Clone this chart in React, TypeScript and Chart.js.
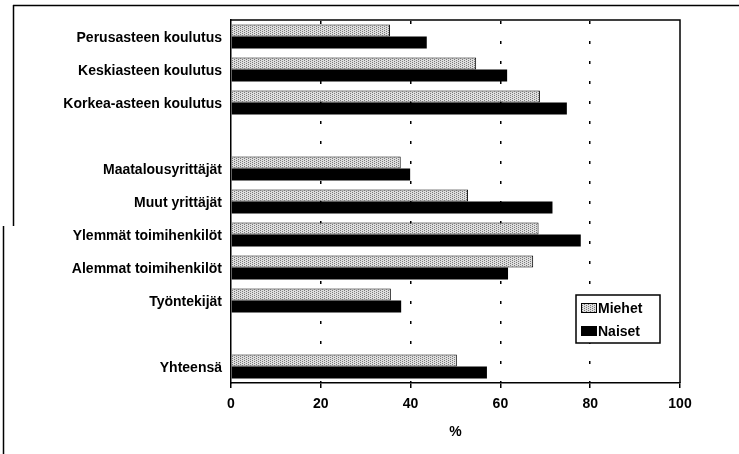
import { useEffect, useRef } from "react";
import { Chart, registerables } from "chart.js";

Chart.register(...registerables);

const categories = [
  "Perusasteen koulutus",
  "Keskiasteen koulutus",
  "Korkea-asteen koulutus",
  "",
  "Maatalousyrittäjät",
  "Muut yrittäjät",
  "Ylemmät toimihenkilöt",
  "Alemmat toimihenkilöt",
  "Työntekijät",
  "",
  "Yhteensä",
];
const miehet = [35.4, 54.6, 68.8, null, 37.8, 52.8, 68.5, 67.3, 35.6, null, 50.3];
const naiset = [43.6, 61.5, 74.8, null, 39.9, 71.6, 77.9, 61.7, 37.9, null, 57.0];
const xTicks = [0, 20, 40, 60, 80, 100];
const xTitle = "%";
const seriesNames = ["Miehet", "Naiset"];

const FONT = "'Liberation Sans', Arial, Helvetica, sans-serif";

function makePattern(): CanvasPattern | string {
  const c = document.createElement("canvas");
  c.width = 4;
  c.height = 4;
  const g = c.getContext("2d");
  if (!g) return "#c4c4c4";
  g.fillStyle = "#dedede";
  g.fillRect(0, 0, 4, 4);
  g.fillStyle = "#7a7a7a";
  for (let y = 0; y < 4; y++)
    for (let x = 0; x < 4; x++) if ((x + 2 * y) % 4 === 0) g.fillRect(x, y, 1, 1);
  const p = g.createPattern(c, "repeat");
  return p || "#c4c4c4";
}

export default function App() {
  const ref = useRef<HTMLCanvasElement | null>(null);

  useEffect(() => {
    if (!ref.current) return;
    const pattern = makePattern();

    const framePlugin = {
      id: "framePlugin",
      beforeDraw(chart: any) {
        const ctx = chart.ctx;
        ctx.save();
        ctx.fillStyle = "#fff";
        ctx.fillRect(0, 0, chart.width, chart.height);
        ctx.strokeStyle = "#000";
        ctx.lineWidth = 1.5;
        ctx.beginPath();
        ctx.moveTo(13, 5.5);
        ctx.lineTo(chart.width, 5.5);
        ctx.moveTo(13.5, 5);
        ctx.lineTo(13.5, 226);
        ctx.moveTo(3.5, 226);
        ctx.lineTo(3.5, chart.height);
        ctx.stroke();
        ctx.restore();
      },
      afterDraw(chart: any) {
        const ctx = chart.ctx;
        const a = chart.chartArea;
        ctx.save();
        ctx.strokeStyle = "#000";
        ctx.lineWidth = 1.5;
        ctx.beginPath();
        ctx.moveTo(a.left, a.top);
        ctx.lineTo(a.right, a.top);
        ctx.lineTo(a.right, a.bottom);
        ctx.stroke();

        // legend box
        const bx = a.right - 104;
        const by = a.top + 275;
        const bw = 84;
        const bh = 48;
        ctx.fillStyle = "#fff";
        ctx.fillRect(bx, by, bw, bh);
        ctx.lineWidth = 1.5;
        ctx.strokeRect(bx, by, bw, bh);
        const ds = chart.data.datasets;
        ctx.font = `bold 14px ${FONT}`;
        ctx.textBaseline = "middle";
        ctx.textAlign = "left";
        ds.forEach((d: any, i: number) => {
          const cy = by + 13 + i * 23;
          ctx.fillStyle = d.backgroundColor;
          ctx.fillRect(bx + 5, cy - 5, 16, 10);
          ctx.lineWidth = 1;
          ctx.strokeStyle = "#000";
          ctx.strokeRect(bx + 5.5, cy - 4.5, 15, 9);
          ctx.fillStyle = "#000";
          ctx.fillText(d.label, bx + 22, cy + 1);
        });
        ctx.restore();
      },
    };

    const chart = new Chart(ref.current, {
      type: "bar",
      data: {
        labels: categories,
        datasets: [
          {
            label: seriesNames[0],
            data: miehet,
            backgroundColor: pattern as any,
            borderColor: "#000",
            borderWidth: 1,
            categoryPercentage: 0.72,
            barPercentage: 1,
          },
          {
            label: seriesNames[1],
            data: naiset,
            backgroundColor: "#000",
            borderColor: "#000",
            borderWidth: 0,
            categoryPercentage: 0.72,
            barPercentage: 1,
          },
        ],
      },
      options: {
        indexAxis: "y",
        animation: false,
        responsive: false,
        maintainAspectRatio: false,
        layout: { padding: { left: 0, right: 59, top: 20, bottom: 0 } },
        plugins: {
          legend: { display: false },
          tooltip: { enabled: false },
        },
        scales: {
          x: {
            type: "linear",
            min: 0,
            max: 100,
            afterBuildTicks: (s: any) => {
              s.ticks = xTicks.map((v) => ({ value: v }));
            },
            afterFit: (s: any) => {
              s.height = 71;
            },
            ticks: {
              color: "#000",
              font: { family: FONT, size: 14, weight: "bold" },
              padding: 8,
            },
            grid: {
              color: (c: any) =>
                c.tick && (c.tick.value === 0 || c.tick.value === 100) ? "rgba(0,0,0,0)" : "#000",
              lineWidth: 1.5,
              drawTicks: true,
              tickLength: 5,
              tickColor: "#000",
              tickWidth: 1.5,
            } as any,
            border: { display: true, color: "#000", width: 1.5, dash: [3, 17], dashOffset: -1 },
            title: {
              display: true,
              text: xTitle,
              color: "#000",
              font: { family: FONT, size: 14, weight: "bold" },
              padding: { top: 0, bottom: 13 },
            },
          },
          y: {
            afterFit: (s: any) => {
              s.width = 231;
            },
            ticks: {
              color: "#000",
              font: { family: FONT, size: 14, weight: "bold" },
              padding: 9,
              labelOffset: 2,
              autoSkip: false,
            },
            grid: { display: false, drawTicks: false },
            border: { display: true, color: "#000", width: 1.5 },
          },
        },
      } as any,
      plugins: [framePlugin],
    });
    return () => chart.destroy();
  }, []);

  return (
    <div style={{ position: "absolute", left: 0, top: 0, width: 739, height: 454 }}>
      <canvas ref={ref} width={739} height={454} style={{ display: "block" }} />
    </div>
  );
}
